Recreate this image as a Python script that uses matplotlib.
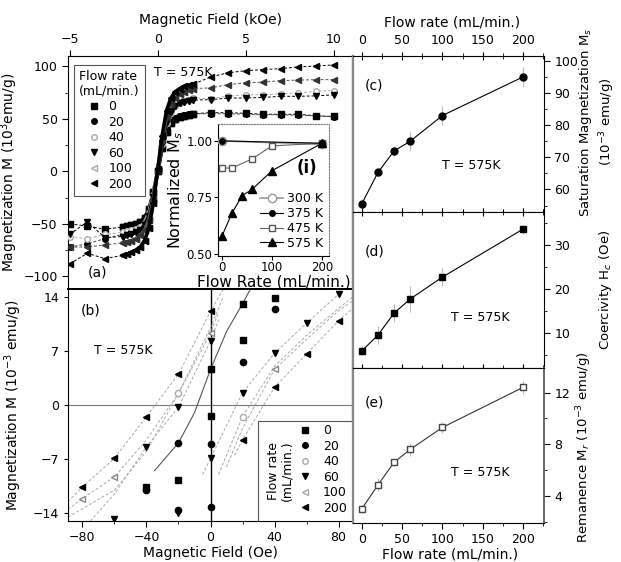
import numpy as np
import matplotlib.pyplot as plt
from matplotlib.lines import Line2D
from matplotlib.patches import Rectangle
from matplotlib.ticker import MultipleLocator

plt.rcParams['font.family'] = 'DejaVu Sans'
plt.rcParams['font.size'] = 9

flow_rates = [0, 20, 40, 60, 100, 200]
flow_labels = ['0', '20', '40', '60', '100', '200']

# ---- panel (a): M vs H (kOe), T = 575K
a_field = [-5, -4, -3,
           -2, -1.75, -1.5, -1.25, -1, -0.75, -0.5, -0.25, 0,
           0.25, 0.5, 0.75, 1, 1.25, 1.5, 1.75, 2,
           3, 4, 5, 6, 7, 8, 9, 10]
a_M0 = [-50, -52, -55,
        -53, -52, -51, -50, -48, -44, -36, -20, 0, 22, 38, 46, 50, 52, 53, 54, 55,
        56, 56, 55.4, 54.5, 54.5, 54.5, 53, 52.4]
a_M20 = [-72, -69, -64,
         -60, -59, -58, -56, -53, -48, -38, -21, 0, 23, 40, 47, 51, 53, 54, 55, 55,
         55, 55, 54.5, 54, 54, 53.5, 53, 52]
a_M40 = [-62, -64, -60,
         -58, -57, -56, -55, -53, -49, -40, -22, 2, 26, 46, 56, 62, 65, 67, 68, 70,
         69.4, 71.6, 73.2, 73, 74, 74.8, 76.4, 77]
a_M60 = [-60, -48, -63,
         -62, -61, -60, -58, -56, -51, -42, -24, 0, 26, 47, 57, 62, 65, 66, 67, 68,
         68.4, 69.9, 70, 70.5, 71.6, 71.6, 72, 73]
a_M100 = [-72, -72, -70,
          -68, -67, -66, -64, -61, -56, -46, -26, 1, 30, 52, 64, 70, 74, 76, 78, 79,
          79.6, 82.8, 84.4, 85, 86.6, 87, 87.5, 87.5]
a_M200 = [-88, -78, -83,
          -80, -79, -77, -75, -72, -66, -54, -30, 2, 34, 58, 70, 76, 79, 81, 82, 83,
          90, 94, 96, 97, 98, 99.6, 100.5, 101.5]
a_M = [a_M0, a_M20, a_M40, a_M60, a_M100, a_M200]

# ---- inset (i): normalized Ms vs flow rate
ins_rate_300 = [0, 200]
ins_300 = [1.0, 0.985]
ins_rate_375 = [0, 200]
ins_375 = [1.0, 0.99]
ins_rate_475 = [0, 20, 60, 100, 200]
ins_475 = [0.88, 0.88, 0.92, 0.978, 0.99]
ins_rate_575 = [0, 20, 40, 60, 100, 200]
ins_575 = [0.579, 0.68, 0.757, 0.785, 0.868, 0.99]

# ---- panel (b): low field loop (Oe)
b_H0 = [-40, -20, 0, 0, 20, 20, 40]
b_M0 = [-10.6, -9.7, 4.6, -1.4, 13.1, 8.4, 13.9]
b_H20 = [-40, -20, -20, 0, 0, 20, 40]
b_M20 = [-11.0, -4.9, -13.6, -5.1, -13.2, 5.5, 12.4]
b_H40 = [-20, 20]
b_M40 = [1.5, -1.5]
b_H60 = [-60, -40, -20, -20, 0, 0, 20, 40, 60, 80]
b_M60 = [-14.8, -5.4, -0.3, -14.0, 8.3, -6.9, 1.6, 6.7, 10.6, 14.3]
b_H100 = [-80, -60, 0, 40]
b_M100 = [-12.1, -9.3, 9.3, 4.6]
b_H200 = [-80, -60, -40, -20, 0, 20, 40, 60, 80]
b_M200 = [-10.6, -6.9, -1.5, 4.0, 12.1, -4.5, 2.3, 6.6, 10.9]
b_H = [b_H0, b_H20, b_H40, b_H60, b_H100, b_H200]
b_M = [b_M0, b_M20, b_M40, b_M60, b_M100, b_M200]

# faint loop branches in (b)
b_curve_H = [[-89, -80, -60, -40, -20, 0, 8],
             [15, 20, 40, 60, 80, 89],
             [-89, -80, -60, -40, -20, 0, 5],
             [10, 20, 40, 60, 80, 89],
             [-75, -60, -40, -20, 0, 5],
             [-5, 0, 20, 40, 60, 80],
             [-89, -60, -40, -20, 0, 8],
             [5, 20, 40, 60, 80, 89]]
b_curve_M = [[-12.5, -10.6, -6.9, -1.5, 4.0, 12.1, 15],
             [-6.5, -4.5, 2.3, 6.6, 10.9, 12.5],
             [-13.5, -12.1, -9.3, -4.5, 1.5, 9.3, 12],
             [-8, -3, 4.6, 8.5, 12.2, 13.5],
             [-15, -11.5, -5.4, -0.3, 8.3, 11],
             [-9, -6.9, 1.6, 6.7, 10.6, 14.3],
             [-14.5, -11, -6, 1.5, 10, 14],
             [-9, -1.5, 5, 9, 12.5, 14]]
b_steep_H = [-35, -20, -10, 0, 10, 20, 25]
b_steep_M = [-8.5, -4.9, -1.0, 4.6, 9.5, 13.1, 15]

# ---- panels (c), (d), (e) vs flow rate
rate = [0, 20, 40, 60, 100, 200]
Ms = [55.6, 65.3, 72, 75, 83, 95]
Ms_err = [1.5, 1, 1.5, 3, 3, 3]
Hc = [5.9, 9.5, 14.5, 17.7, 22.7, 33.6]
Hc_err = [1, 2, 2, 3, 2, 1]
Mr = [3.0, 4.85, 6.6, 7.6, 9.3, 12.4]
Mr_err = [0.3, 0.5, 0.3, 0.5, 0.4, 0.5]

# marker styles for the flow-rate series
markers = ['s', 'o', 'o', 'v', '<', '<']
face = ['k', 'k', 'white', 'k', '#333333', 'k']
edge = ['k', 'k', '#aaaaaa', 'k', '#333333', 'k']
lcol = ['k', '#444444', '#aaaaaa', 'k', '#555555', 'k']
leg_face = ['k', 'k', 'white', 'k', 'white', 'k']
leg_edge = ['k', 'k', '#aaaaaa', 'k', '#aaaaaa', 'k']

fig = plt.figure(figsize=(6.21, 5.62), dpi=100)
W, H = 621.0, 562.0


def box(x0, y0, x1, y1):
    return [x0 / W, 1 - y1 / H, (x1 - x0) / W, (y1 - y0) / H]


ax_a = fig.add_axes(box(68, 56, 353, 289))
ax_b = fig.add_axes(box(68, 289, 353, 521))
ax_c = fig.add_axes(box(353, 56, 544, 212))
ax_d = fig.add_axes(box(353, 212, 544, 368))
ax_e = fig.add_axes(box(353, 368, 544, 523))
ax_i = fig.add_axes(box(218, 124, 329, 256))

# ---------- (a)
for k in range(6):
    ax_a.plot(a_field, a_M[k], ls=(0, (3, 2)), lw=0.7, color=lcol[k],
              marker=markers[k], ms=4, mfc=face[k], mec=edge[k], zorder=3)
    ax_a.plot(a_field[3:20], a_M[k][3:20], lw=2.6, color=lcol[k] if k != 2 else '#bbbbbb',
              marker=markers[k], ms=4, mfc=face[k], mec=edge[k], zorder=3)
ax_a.set_xlim(-5.1, 11.1)
ax_a.set_ylim(-112, 110)
ax_a.xaxis.tick_top()
ax_a.xaxis.set_label_position('top')
ax_a.set_xticks([-5, 0, 5, 10])
ax_a.set_yticks([-100, -50, 0, 50, 100])
ax_a.yaxis.set_minor_locator(MultipleLocator(25))
ax_a.tick_params(which='both', direction='out', length=4)
ax_a.tick_params(which='minor', length=2)
ax_a.set_xlabel('Magnetic Field (kOe)', fontsize=10, labelpad=6)
ax_a.set_ylabel('Magnetization M (10$^3$emu/g)', fontsize=10, labelpad=2)
ax_a.text(-0.2, 94, 'T = 575K', fontsize=9, va='center')
ax_a.text(-3.4, -96, '(a)', fontsize=10, ha='center', va='center')

proxies = [Line2D([], [], ls='none', marker=markers[k], ms=4,
                  mfc=leg_face[k], mec=leg_edge[k]) for k in range(6)]
leg = ax_a.legend(proxies, flow_labels, title='Flow rate\n(mL/min.)', loc='upper left',
                  bbox_to_anchor=(0.021, 0.962), borderaxespad=0, fontsize=9,
                  title_fontsize=9, handlelength=1.2, labelspacing=0.2,
                  handletextpad=0.6, fancybox=False, framealpha=1, edgecolor='#555555')
leg.get_frame().set_linewidth(0.8)
ax_a.spines['right'].set_color('#888888')
ax_a.spines['right'].set_linewidth(1.6)
ax_a.spines['bottom'].set_linewidth(1.4)

# ---------- inset (i)
ax_i.set_facecolor('white')
ax_i.plot(ins_rate_300, ins_300, color='#999999', lw=1.2, marker='o', ms=6,
          mfc='white', mec='#999999', label='300 K', zorder=3)
ax_i.plot(ins_rate_375, ins_375, color='k', lw=0.8, marker='o', ms=4,
          mfc='k', mec='k', label='375 K', zorder=4)
ax_i.plot(ins_rate_475, ins_475, color='#666666', lw=0.8, marker='s', ms=5,
          mfc='white', mec='#555555', label='475 K', zorder=3)
ax_i.plot(ins_rate_575, ins_575, color='k', lw=0.8, marker='^', ms=6,
          mfc='k', mec='k', label='575 K', zorder=3)
ax_i.set_xlim(-8, 214)
ax_i.set_ylim(0.49, 1.075)
ax_i.set_xticks([0, 100, 200])
ax_i.set_yticks([0.5, 0.75, 1.0])
ax_i.set_yticklabels(['0.50', '0.75', '1.00'])
ax_i.tick_params(labelsize=8.5, length=3, pad=1)
ax_i.tick_params(axis='x', pad=0.5)
ax_i.set_xlabel('Flow Rate (mL/min.)', fontsize=11, labelpad=0.5)
ax_i.set_ylabel('Normalized M$_s$', fontsize=11.5, labelpad=1)
for sp in ['top', 'right']:
    ax_i.spines[sp].set_linestyle((0, (1, 1.5)))
    ax_i.spines[sp].set_color('#777777')
ax_i.text(150, 0.86, '(i)', fontsize=12, fontweight='bold')
ax_i.legend(loc='lower right', fontsize=9, frameon=False, handlelength=1.8,
            labelspacing=0.15, borderaxespad=0.1, handletextpad=0.3)

# ---------- (b)
ax_b.axhline(0, color='#777777', lw=0.8, zorder=1)
ax_b.axvline(0, color='k', lw=1.0, zorder=1)
for cx, cy in zip(b_curve_H, b_curve_M):
    ax_b.plot(cx, cy, ls=(0, (3, 2)), lw=0.7, color='#aaaaaa', zorder=2)
ax_b.plot(b_steep_H, b_steep_M, lw=0.8, color='#555555', zorder=2)
for k in range(6):
    ax_b.plot(b_H[k], b_M[k], ls='none', marker=markers[k], ms=4.5,
              mfc=face[k] if k != 4 else 'white', mec=edge[k] if k != 4 else '#888888',
              zorder=4)
ax_b.set_xlim(-89, 89)
ax_b.set_ylim(-15, 15)
ax_b.set_xticks([-80, -40, 0, 40, 80])
ax_b.set_yticks([-14, -7, 0, 7, 14])
ax_b.xaxis.set_minor_locator(MultipleLocator(20))
ax_b.tick_params(which='both', direction='out', length=4)
ax_b.tick_params(which='minor', length=2)
ax_b.tick_params(axis='y', which='both', length=3)
ax_b.set_xlabel('Magnetic Field (Oe)', fontsize=10, labelpad=1)
ax_b.set_ylabel('Magnetization M (10$^{-3}$ emu/g)', fontsize=10, labelpad=6)
ax_b.text(-73, 7, 'T = 575K', fontsize=9, va='center')
ax_b.text(-75, 12.2, '(b)', fontsize=10, ha='center', va='center')
ax_b.spines['top'].set_linewidth(1.4)
ax_b.spines['right'].set_color('#888888')
ax_b.spines['right'].set_linewidth(1.6)

# legend box for (b) with rotated title
ax_b.add_patch(Rectangle((0.667, 0.0), 0.333, 0.43, transform=ax_b.transAxes,
                         facecolor='white', edgecolor='#555555', lw=0.8, zorder=5))
ax_b.text(0.745, 0.215, 'Flow rate\n(mL/min.)', transform=ax_b.transAxes, rotation=90,
          ha='center', va='center', fontsize=9, zorder=6, linespacing=1.1)
leg_b = ax_b.legend(proxies, flow_labels, loc='lower right', bbox_to_anchor=(1.0, 0.0),
                    borderaxespad=0.1, fontsize=9, handlelength=1.2, labelspacing=0.2,
                    handletextpad=0.8, frameon=False)
leg_b.set_zorder(7)

# ---------- (c), (d), (e)
for ax in (ax_c, ax_d, ax_e):
    ax.set_xlim(-11, 226)
    ax.xaxis.set_major_locator(MultipleLocator(50))
    ax.xaxis.set_minor_locator(MultipleLocator(25))
    ax.yaxis.tick_right()
    ax.tick_params(which='both', direction='out', length=4, labelsize=9)
    ax.tick_params(which='minor', length=2)
    ax.tick_params(axis='x', which='both', direction='inout', length=6, top=True, bottom=True,
                   labelbottom=False, labeltop=False)
    ax.tick_params(axis='x', which='minor', length=4)
    ax.spines['left'].set_color('#888888')
    ax.spines['left'].set_linewidth(1.6)

ax_c.errorbar(rate, Ms, yerr=Ms_err, fmt='none', ecolor='#bbbbbb', elinewidth=0.8, zorder=2)
ax_c.plot(rate, Ms, color='k', lw=0.8, marker='o', ms=5, zorder=3)
ax_c.set_ylim(53, 101.5)
ax_c.yaxis.set_major_locator(MultipleLocator(10))
ax_c.yaxis.set_minor_locator(MultipleLocator(5))
ax_c.tick_params(axis='x', labeltop=True)
ax_c.text(100, 67.5, 'T = 575K', fontsize=9, va='center')
ax_c.text(3, 92.2, '(c)', fontsize=10, va='center')

ax_d.errorbar(rate, Hc, yerr=Hc_err, fmt='none', ecolor='#bbbbbb', elinewidth=0.8, zorder=2)
ax_d.plot(rate, Hc, color='k', lw=0.8, marker='s', ms=4.5, zorder=3)
ax_d.set_ylim(2, 37.5)
ax_d.yaxis.set_major_locator(MultipleLocator(10))
ax_d.yaxis.set_minor_locator(MultipleLocator(5))
ax_d.text(110, 13.6, 'T = 575K', fontsize=9, va='center')
ax_d.text(3, 28.4, '(d)', fontsize=10, va='center')

ax_e.errorbar(rate, Mr, yerr=Mr_err, fmt='none', ecolor='#bbbbbb', elinewidth=0.8, zorder=2)
ax_e.plot(rate, Mr, color='#333333', lw=0.8, marker='s', ms=4.5, mfc='white',
          mec='#444444', zorder=3)
ax_e.set_ylim(1.9, 13.9)
ax_e.yaxis.set_major_locator(MultipleLocator(4))
ax_e.yaxis.set_minor_locator(MultipleLocator(2))
ax_e.tick_params(axis='x', which='both', direction='out', top=False, labelbottom=True)
ax_e.tick_params(axis='x', which='major', length=4)
ax_e.tick_params(axis='x', which='minor', length=2)
ax_e.text(110, 5.8, 'T = 575K', fontsize=9, va='center')
ax_e.text(3, 11.2, '(e)', fontsize=10, va='center')
ax_e.spines['right'].set_color('#666666')
ax_e.spines['right'].set_linewidth(1.4)

fig.text(452 / W, 1 - 22 / H, 'Flow rate (mL/min.)', ha='center', va='center', fontsize=10)
fig.text(450 / W, 1 - 555 / H, 'Flow rate (mL/min.)', ha='center', va='center', fontsize=10)
fig.text(597 / W, 1 - 122 / H, 'Saturation Magnetization M$_s$\n(10$^{-3}$ emu/g)',
         ha='center', va='center', rotation=90, fontsize=9.5, linespacing=1.3)
fig.text(605 / W, 1 - 290 / H, 'Coercivity H$_c$ (Oe)', ha='center', va='center',
         rotation=90, fontsize=9.5)
fig.text(584 / W, 1 - 447 / H, 'Remanence M$_r$ (10$^{-3}$ emu/g)', ha='center',
         va='center', rotation=90, fontsize=9.5)

fig.savefig('out.png', dpi=100)
